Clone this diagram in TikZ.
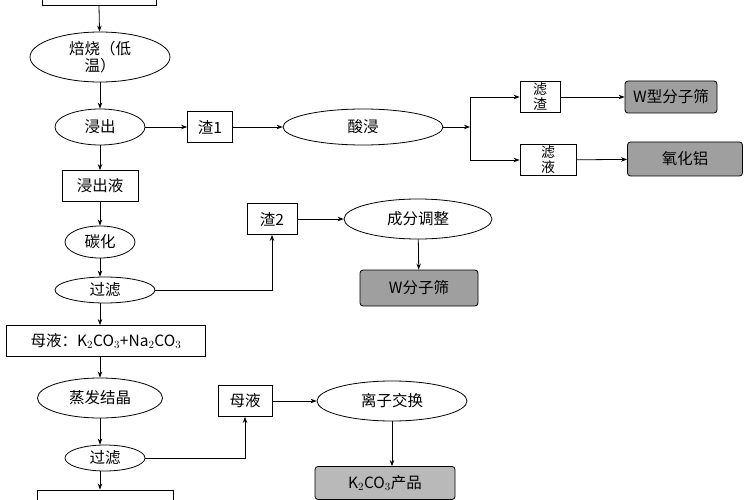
\documentclass[tikz,border=0pt]{standalone}
\usepackage{fontspec}
\setmainfont{Noto Sans CJK SC}
\usetikzlibrary{shapes.geometric,arrows.meta}
\begin{document}
\begin{tikzpicture}[x=1pt,y=-1pt,font=\fontsize{15.5}{17}\selectfont,
 bx/.style={draw,thick,inner sep=0,minimum width=#1,minimum height=31},
 el/.style={draw,thick,ellipse,inner sep=0},
 dk/.style={draw,thick,fill=gray!75,rounded corners=3,inner sep=0,minimum height=32},
 lt/.style={draw,thick,fill=gray!55,rounded corners=3,inner sep=0,minimum height=33},
 ar/.style={-{Stealth[length=6pt]},thick}]
\useasboundingbox (0,0) rectangle (750,500);
\node[bx=114,minimum height=20] (top) at (99,-5) {};
\node[el,minimum width=140,minimum height=50,align=center] (bs) at (100,57) {焙烧（低\\温）};
\node[el,minimum width=90,minimum height=36] (jc) at (100,127) {浸出};
\node[bx=45] (z1) at (210,127) {渣1};
\node[el,minimum width=160,minimum height=36] (sj) at (363,127) {酸浸};
\coordinate (br) at (470,127);
\node[bx=40,align=center,font=\fontsize{14}{15}\selectfont] (lz) at (540,97) {滤\\渣};
\node[bx=56,align=center,font=\fontsize{14}{15}\selectfont] (ly) at (548,160) {滤\\液};
\node[dk,minimum width=92] (wx) at (671,97) {W型分子筛};
\node[dk,minimum width=115,minimum height=34] (yh) at (685,159) {氧化铝};
\node[bx=76] (jcy) at (100,186) {浸出液};
\node[el,minimum width=70,minimum height=32] (th) at (100,242) {碳化};
\node[el,minimum width=100,minimum height=26] (gl) at (105,290) {过滤};
\node[bx=50] (z2) at (272,219) {渣2};
\node[el,minimum width=148,minimum height=40] (cf) at (418,219) {成分调整};
\node[dk,minimum width=118,minimum height=36] (wf) at (419,288) {W分子筛};
\node[bx=199] (my) at (106,341) {母液：K$_2$CO$_3$+Na$_2$CO$_3$};
\node[el,minimum width=125,minimum height=40] (zf) at (100,398) {蒸发结晶};
\node[bx=54] (my2) at (245,401) {母液};
\node[el,minimum width=150,minimum height=40] (lj) at (392,401) {离子交换};
\node[el,minimum width=80,minimum height=26] (gl2) at (105,458) {过滤};
\node[lt,minimum width=140] (kc) at (385,483) {K$_2$CO$_3$产品};
\node[bx=136,minimum height=20] (bot) at (105,500) {};
\draw[ar] (top.south) -- (bs);
\draw[ar] (bs) -- (jc);
\draw[ar] (jc) -- (z1);
\draw[ar] (z1) -- (sj);
\draw[ar] (sj) -- (br);
\draw[thick] (lz.west-|br) -- (ly.west-|br);
\draw[ar] (lz.west-|br) -- (lz.west);
\draw[ar] (ly.west-|br) -- (ly.west);
\draw[ar] (lz) -- (wx);
\draw[ar] (ly) -- (yh);
\draw[ar] (jc) -- (jcy);
\draw[ar] (jcy) -- (th);
\draw[ar] (th) -- (th|-gl.north);
\draw[ar] (gl.east) -| (z2.south);
\draw[ar] (z2) -- (cf);
\draw[ar] (cf) -- (wf);
\draw[ar] (gl.south-|th) -- (th|-my.north);
\draw[ar] (th|-my.south) -- (zf);
\draw[ar] (zf) -- (zf|-gl2.north);
\draw[ar] (gl2.east) -| (my2.south);
\draw[ar] (my2) -- (lj);
\draw[ar] (lj) -- (lj|-kc.north);
\draw[ar] (gl2.south-|zf) -- (zf|-bot.north);
\end{tikzpicture}
\end{document}
